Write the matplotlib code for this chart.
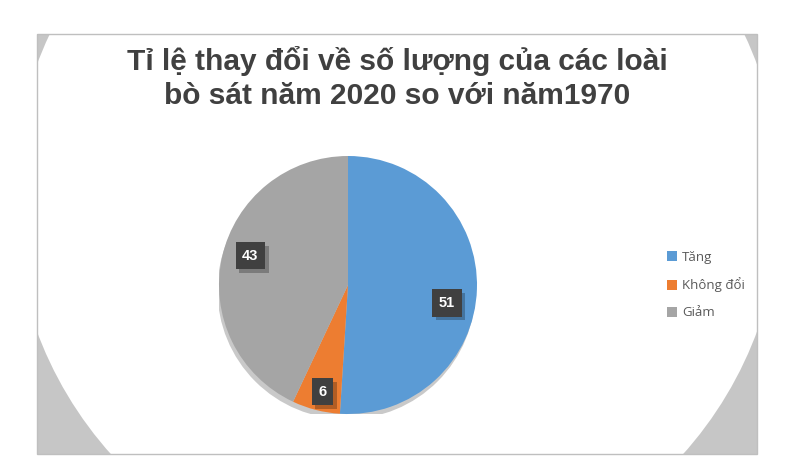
import numpy as np
import matplotlib
matplotlib.use("Agg")
import matplotlib.pyplot as plt
from matplotlib.patches import Rectangle, Circle, Patch
import matplotlib.patheffects as pe

# ---- data ----
categories = ["Tăng", "Không đổi", "Giảm"]
values = [51, 6, 43]
colors = ["#5B9BD5", "#ED7D31", "#A5A5A5"]
title_line1 = "Tỉ lệ thay đổi về số lượng của các loài"
title_line2 = "bò sát năm 2020 so với năm1970"

W, H = 803, 461
fig = plt.figure(figsize=(W / 100, H / 100), dpi=100)
fig.patch.set_facecolor("white")

# background axes in pixel coordinates
bg = fig.add_axes([0, 0, 1, 1])
bg.set_xlim(0, W)
bg.set_ylim(H, 0)
bg.axis("off")

frame = Rectangle((37, 34), 720, 420, facecolor="#C6C6C6", edgecolor="none", zorder=0)
bg.add_patch(frame)
glow = Circle((397, 198), 384, facecolor="white", edgecolor="none", zorder=1)
bg.add_patch(glow)
glow.set_clip_path(frame)
border = Rectangle((37, 34), 720, 420, facecolor="none", edgecolor="#BFBFBF", lw=1.0, zorder=2)
bg.add_patch(border)

tkw = dict(ha="center", va="baseline", fontsize=21.5, fontweight="bold",
           family=["Liberation Sans", "DejaVu Sans"], color="#404040", zorder=3)
bg.text(397, 70, title_line1, **tkw)
bg.text(397, 104, title_line2, **tkw)

# pie axes
cx, cy, r = 348, 285, 129
ax = fig.add_axes([(cx - r) / W, (H - cy - r) / H, 2 * r / W, 2 * r / H])
ax.axis("off")

# soft shadow under the pie
ax.add_patch(Circle((-0.012, -0.04), 1.0, facecolor="#C9C9C9", edgecolor="none", zorder=0))
wedges, _ = ax.pie(values, colors=colors, startangle=90, counterclock=False, radius=1.0,
                   wedgeprops=dict(linewidth=0))
for w in wedges:
    w.set_zorder(1)
ax.set_xlim(-1, 1)
ax.set_ylim(-1, 1)

# data labels
label_r = [0.78, 0.85, 0.79]
label_dang = [-8.5, 1, -4]
for w, v, rr, da in zip(wedges, values, label_r, label_dang):
    ang = np.deg2rad((w.theta1 + w.theta2) / 2 + da)
    x, y = rr * np.cos(ang), rr * np.sin(ang)
    t = ax.text(x, y, str(v), ha="center", va="center", fontsize=10.5, fontweight="bold",
                color="white", family="Liberation Sans",
                bbox=dict(boxstyle="square,pad=0.45", facecolor="#404040", edgecolor="none"),
                zorder=5)
    t.get_bbox_patch().set_path_effects(
        [pe.SimplePatchShadow(offset=(2.5, -2.5), shadow_rgbFace="#000000", alpha=0.25), pe.Normal()])

# legend
handles = [Patch(facecolor=c, edgecolor="none") for c in colors]
leg = fig.legend(handles, categories, loc="center left", bbox_to_anchor=(662 / W, 1 - 285 / H),
                 frameon=False, handlelength=0.75, handleheight=0.75,
                 handletextpad=0.35, labelspacing=1.05, borderaxespad=0,
                 prop={"family": "Open Sans", "size": 9.5})
for t in leg.get_texts():
    t.set_color("#595959")

fig.savefig("out.png", dpi=100)
